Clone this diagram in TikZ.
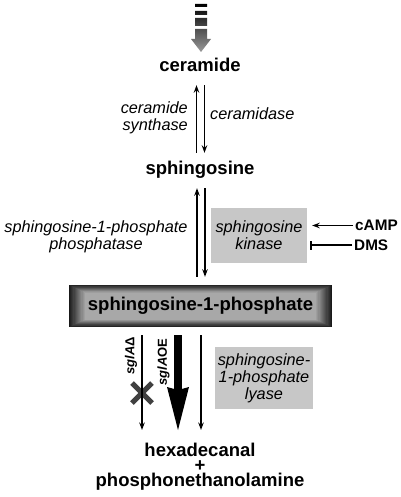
\documentclass[tikz,border=0pt]{standalone}
\usepackage{fontspec}
\setmainfont{Liberation Sans}
\usepackage{tikz}
\usetikzlibrary{arrows.meta, positioning, calc, backgrounds, shapes.misc}
\tikzstyle{metab} = [font=\bfseries\fontsize{18.5}{14}\selectfont, inner sep=0pt, text height=13pt, text depth=4pt]
\tikzstyle{enzyme} = [font=\itshape\fontsize{16.3}{17}\selectfont, inner sep=0pt]
\tikzstyle{enzbox} = [enzyme, fill=black!22, align=center]
\tikzstyle{arrow} = [line width=1.3pt, -{Stealth[length=7.5pt,width=5.5pt]}, shorten <=9pt, shorten >=9pt]

\begin{document}
\begin{tikzpicture}[x=1pt, y=-1pt]
  \useasboundingbox (0,0) rectangle (400,497);

  % incoming flux into ceramide
  \shade[top color=black, bottom color=black!40]
    (195,4) rectangle (207,7) (195,11) rectangle (207,15) (195,18) rectangle (207,26)
    (195,29) -- (207,29) -- (207,39) -- (211,39) -- (201,52) -- (191,39) -- (195,39) -- cycle;

  % metabolites
  \node[metab] (cer) at (200,67.5) {ceramide};
  \node[metab] (sph) at (200,170.5) {sphingosine};
  \node[metab, minimum width=263pt, minimum height=42pt] (s1p) at (200.5,306) {sphingosine-1-phosphate};
  \node[font=\bfseries\fontsize{18.5}{15}\selectfont, inner sep=0pt, align=center, anchor=north] (prod) at (200,443) {hexadecanal\\+\\phosphonethanolamine};

  % shaded frame of S1P
  \begin{scope}[on background layer]
    \foreach \i [evaluate=\i as \shd using int(90-4*\i)] in {0,...,14}
      \fill[black!\shd] ($(s1p.north west)+(1.15*\i,0.55*\i)$) rectangle ($(s1p.south east)-(1.15*\i,0.55*\i)$);
  \end{scope}

  % enzymes
  \node[enzyme, align=right, anchor=north east] (cers) at (188,101.5) {ceramide\\synthase};
  \node[enzyme, anchor=west] (cdase) at (210,114) {ceramidase};
  \node[enzyme, align=center, anchor=north] (spp) at (96,220) {sphingosine-1-phosphate\\phosphatase};
  \node[enzbox, minimum width=96pt, minimum height=55pt] (sphk) at (259,235.5) {sphingosine\\kinase};
  \node[enzbox, minimum width=98pt, minimum height=62pt] (lyase) at (264,378) {sphingosine-\\1-phosphate\\lyase};

  % effectors
  \node[font=\bfseries\fontsize{15.3}{16}\selectfont, inner sep=0pt, anchor=west] (camp) at (355,225.5) {cAMP};
  \node[font=\bfseries\fontsize{15.3}{16}\selectfont, inner sep=0pt, anchor=west] (dms) at (354,245) {DMS};

  % genetic backgrounds
  \node[font=\bfseries\fontsize{13}{13}\selectfont, inner sep=0pt, rotate=90] (del) at (131,356) {\textit{sglA}Δ};
  \node[font=\bfseries\fontsize{13}{13}\selectfont, inner sep=0pt, rotate=90] (oe) at (163.5,362) {\textit{sglA}OE};
  \node[cross out, draw=black!75, line width=5pt, minimum size=15pt, inner sep=0pt] (blk) at (142,393) {};

  % reactions
  \draw[arrow] ([xshift=-3.5pt]sph.north) -- ([xshift=-3.5pt]cer.south);
  \draw[arrow] ([xshift=4.5pt]cer.south) -- ([xshift=4.5pt]sph.north);
  \draw[arrow, shorten <=8pt] ([xshift=-3.5pt]s1p.north) -- ([xshift=-3.5pt]s1p.north |- sph.south);
  \draw[arrow, shorten >=8pt] ([xshift=4.5pt]s1p.north |- sph.south) -- ([xshift=4.5pt]s1p.north);
  \draw[arrow, shorten <=8pt, shorten >=13pt] ([xshift=-58.5pt]s1p.south) -- ([xshift=-58.5pt]s1p.south |- prod.north);
  \draw[line width=8pt, -{Stealth[length=43pt,width=22pt,inset=3pt,line width=0pt]}, shorten <=8pt, shorten >=13pt]
    ([xshift=-22.5pt]s1p.south) -- ([xshift=-22.5pt]s1p.south |- prod.north);
  \draw[arrow, shorten <=8pt, shorten >=13pt] ([xshift=0.5pt]s1p.south) -- ([xshift=0.5pt]s1p.south |- prod.north);
  \draw[arrow, shorten <=2pt, shorten >=5pt] (camp.west) -- (sphk.east |- camp.west);
  \draw[line width=1.3pt, -{Bar[width=9pt]}, shorten <=2pt, shorten >=3pt] (dms.west) -- (sphk.east |- dms.west);
\end{tikzpicture}
\end{document}
